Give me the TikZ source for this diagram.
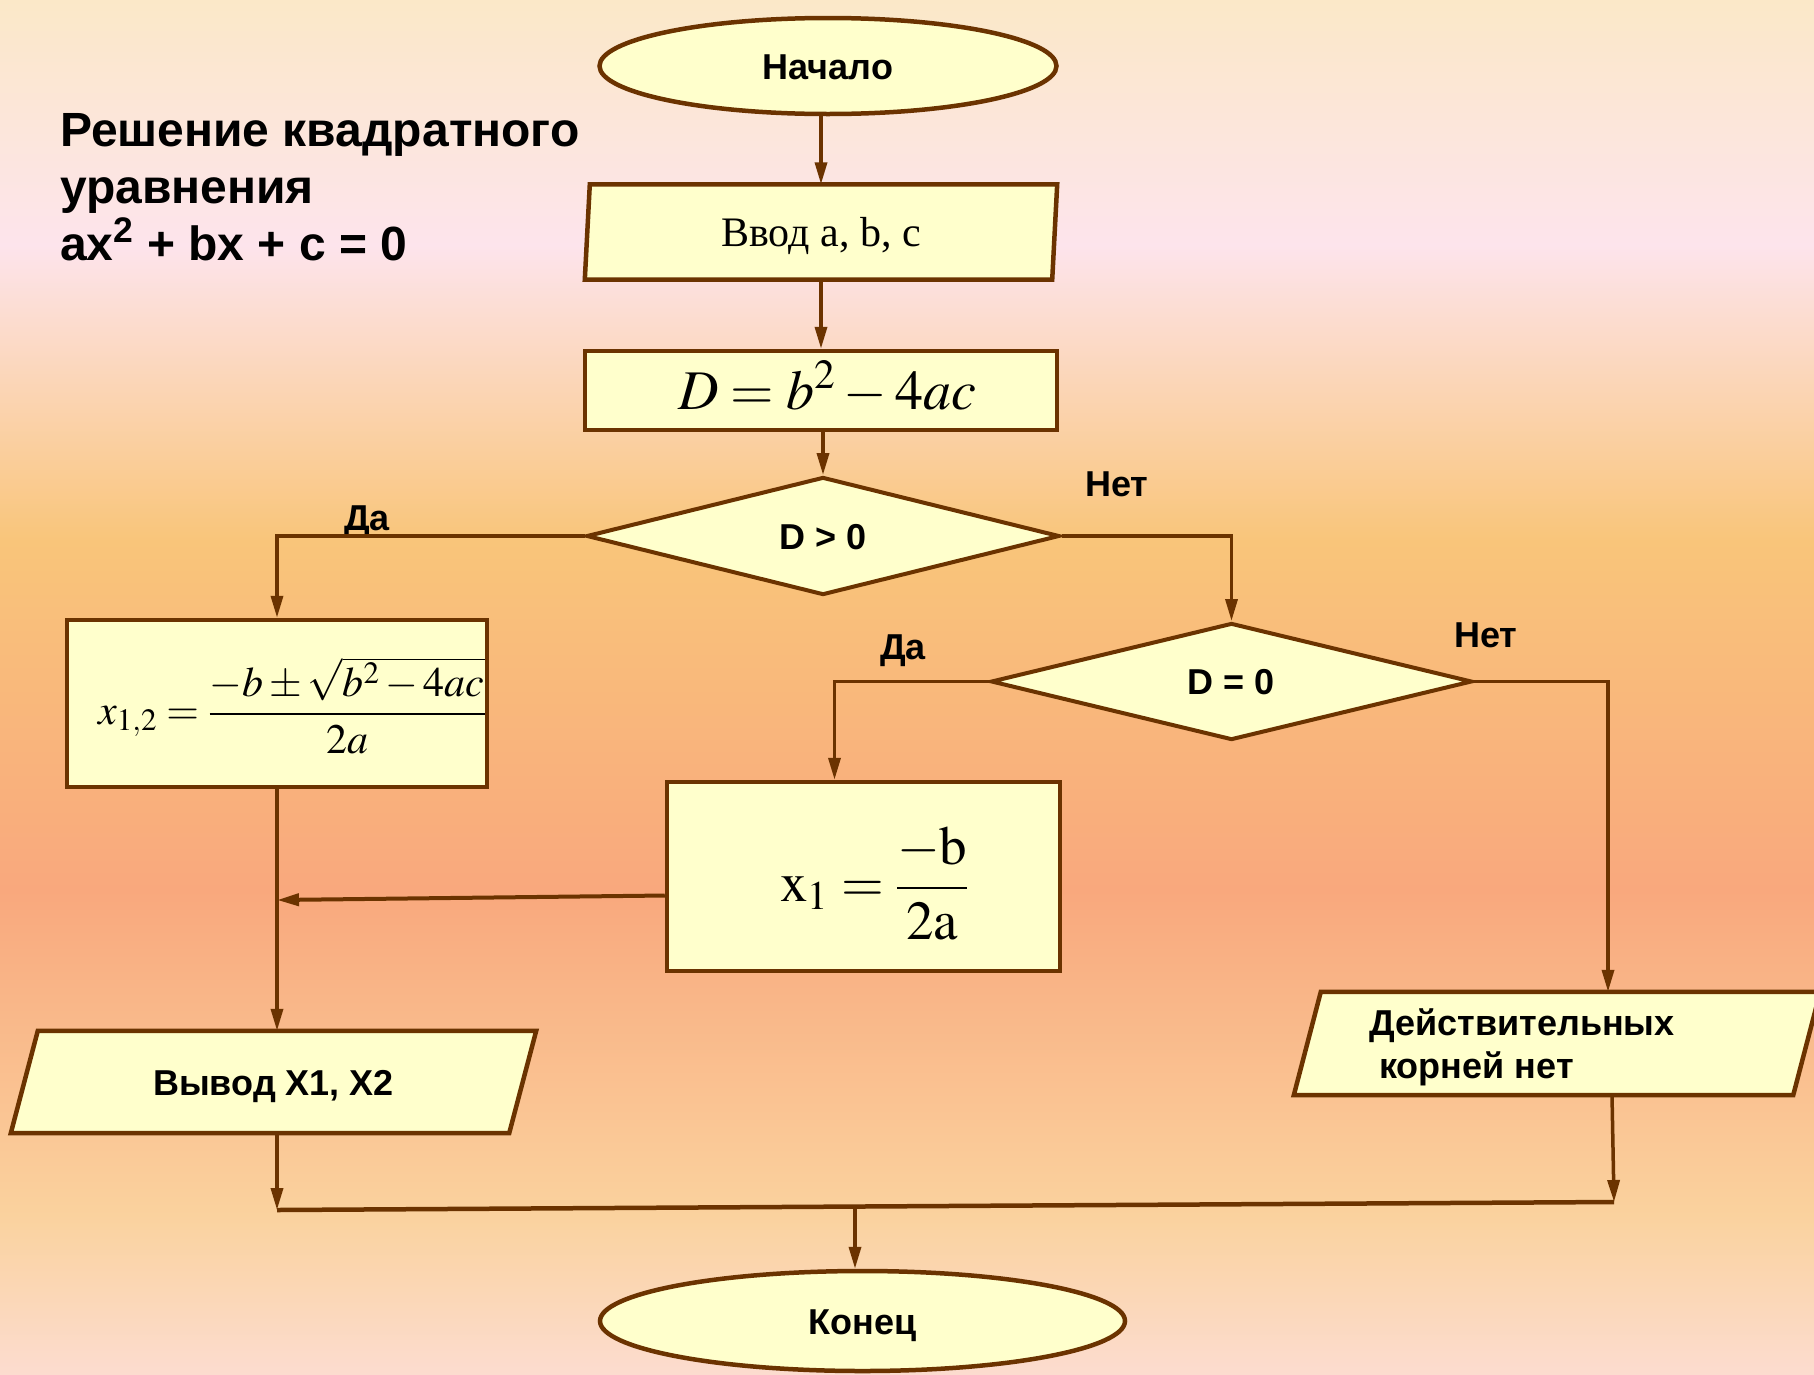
\documentclass[tikz,border=0pt]{standalone}
\usepackage{mathptmx}
\usepackage[no-math]{fontspec}
\setmainfont{Liberation Serif}
\setsansfont{Liberation Sans}
\usetikzlibrary{shapes.geometric,arrows.meta}

\definecolor{brn}{HTML}{6B3300}
\definecolor{boxfill}{HTML}{FFFFCC}
\definecolor{g0}{HTML}{FBE8C8}
\definecolor{g1}{HTML}{FDE4EC}
\definecolor{g2}{HTML}{F9C57A}
\definecolor{g3}{HTML}{F9A87D}
\definecolor{g4}{HTML}{FAD29E}
\definecolor{g5}{HTML}{FCDCCF}

\pgfdeclarelayer{bgl}
\pgfdeclarelayer{shp}
\pgfsetlayers{bgl,shp,main}

\newcommand\drawpara[2]{%
  \begin{pgfonlayer}{shp}
    \draw[boxline,fill=boxfill] ([xshift=#2]#1.north west) -- (#1.north east)
      -- ([xshift=-#2]#1.south east) -- (#1.south west) -- cycle;
  \end{pgfonlayer}}

\begin{document}
\begin{tikzpicture}[x=1pt,y=-1pt,
  boxline/.style={draw=brn,line width=4.5pt},
  sbold/.style={font=\fontsize{36}{43}\selectfont\sffamily\bfseries},
  term/.style={ellipse,boxline,fill=boxfill,inner sep=0pt,sbold},
  proc/.style={rectangle,boxline,fill=boxfill,inner sep=0pt},
  para/.style={rectangle,draw=none,inner sep=0pt},
  cond/.style={diamond,boxline,line width=4pt,fill=boxfill,inner sep=0pt,sbold},
  conn/.style={draw=brn,line width=3.5pt},
  arr/.style={conn,-{Triangle[length=22pt,width=12pt]}},
  lbl/.style={sbold,inner sep=0pt,anchor=base}
]
\useasboundingbox (0,0) rectangle (1814,1374);

\begin{pgfonlayer}{bgl}
  \shade[top color=g0,bottom color=g1] (0,0) rectangle (1814,246);
  \shade[top color=g1,bottom color=g2] (0,245) rectangle (1814,541);
  \shade[top color=g2,bottom color=g3] (0,540) rectangle (1814,891);
  \shade[top color=g3,bottom color=g4] (0,890) rectangle (1814,1216);
  \shade[top color=g4,bottom color=g5] (0,1215) rectangle (1814,1374);
\end{pgfonlayer}

% title
\node[anchor=north west,inner sep=0pt,align=left,
      font=\fontsize{48}{57}\selectfont\sffamily\bfseries] (title) at (60,113)
  {Решение квадратного\\уравнения\\ax\textsuperscript{2} + bx + c = 0};

% nodes
\node[term,minimum width=457,minimum height=96,text height=26pt,text depth=0pt] (nach) at (828,66) {Начало};

\node[para,minimum width=472,minimum height=95,text height=28pt,text depth=0pt,
      font=\fontsize{42}{50}\selectfont] (vvod) at (821,232) {Ввод a, b, c};
\drawpara{vvod}{5}

\node[proc,minimum width=472,minimum height=79,text height=37pt,text depth=0pt,
      font=\fontsize{56}{66}\selectfont] (dbox) at (821,390.5) {\kern12pt$D = b^{2} - 4ac$};

\node[cond,minimum width=473,minimum height=118,text height=26pt,text depth=0pt] (dgt) at (823,536) {D > 0};

\node[cond,minimum width=481,minimum height=117,text height=26pt,text depth=0pt] (deq) at (1231.5,681.5) {D = 0};

\node[proc,minimum width=420,minimum height=167,text height=72pt,text depth=30pt,
      font=\fontsize{42}{50}\selectfont] (x12) at (277,703.5)
  {\kern30pt$\displaystyle x_{1,2} = \frac{-b\pm\sqrt{b^{2}-4ac}}{2a}$};

\node[proc,minimum width=393,minimum height=189,text height=82pt,text depth=32pt,
      font=\fontsize{55}{66}\selectfont] (x1) at (863.5,876.5)
  {\kern22pt$\displaystyle \mathrm{x}_{1} = \frac{-\mathrm{b}}{\mathrm{2a}}$};

\node[para,minimum width=525,minimum height=102,text height=26pt,text depth=0pt,sbold] (vyv) at (273.5,1082) {Вывод X1, X2};
\drawpara{vyv}{27}

\node[para,minimum width=526,minimum height=103,sbold,align=left,text depth=0pt] (neg) at (1557,1043.5)
  {Действительных\hspace*{70pt}\\\hspace*{10pt}корней нет};
\drawpara{neg}{27}

\node[term,minimum width=525,minimum height=100,text height=26pt,text depth=0pt] (kon) at (862.5,1321) {Конец};

% labels
\node[lbl] (da1) at (367,530) {Да};
\node[lbl] (net1) at (1117,496) {Нет};
\node[lbl] (da2) at (903,659) {Да};
\node[lbl] (net2) at (1486,647) {Нет};

% junctions
\coordinate (j1) at (x12.south |- 0,900);
\coordinate (mL) at (x12.south |- 0,1210);
\coordinate (mR) at (1614,1202);
\coordinate (mC) at (855,1207);

% connectors
\draw[arr] (vvod.north |- nach.south) -- (vvod.north);
\draw[arr] (vvod.south) -- (dbox.north);
\draw[arr] (dgt.north |- dbox.south) -- (dgt.north);
\draw[arr] (dgt.west) -| (x12.north);
\draw[arr] (dgt.east) -| (deq.north);
\draw[arr] (deq.west) -| ([xshift=-29pt]x1.north);
\draw[arr] (deq.east) -| ([xshift=51pt]neg.north);
\draw[arr] (x12.south) -- (x12.south |- vyv.north);
\draw[arr,line width=4pt] ([yshift=-19pt]x1.west) -- (j1);
\draw[arr] (x12.south |- vyv.south) -- (mL);
\draw[arr] ([xshift=55pt]neg.south) -- (mR);
\draw[conn,line width=4.5pt] (mL) -- (mR);
\draw[arr] (mC) -- (mC |- kon.north);
\end{tikzpicture}
\end{document}
